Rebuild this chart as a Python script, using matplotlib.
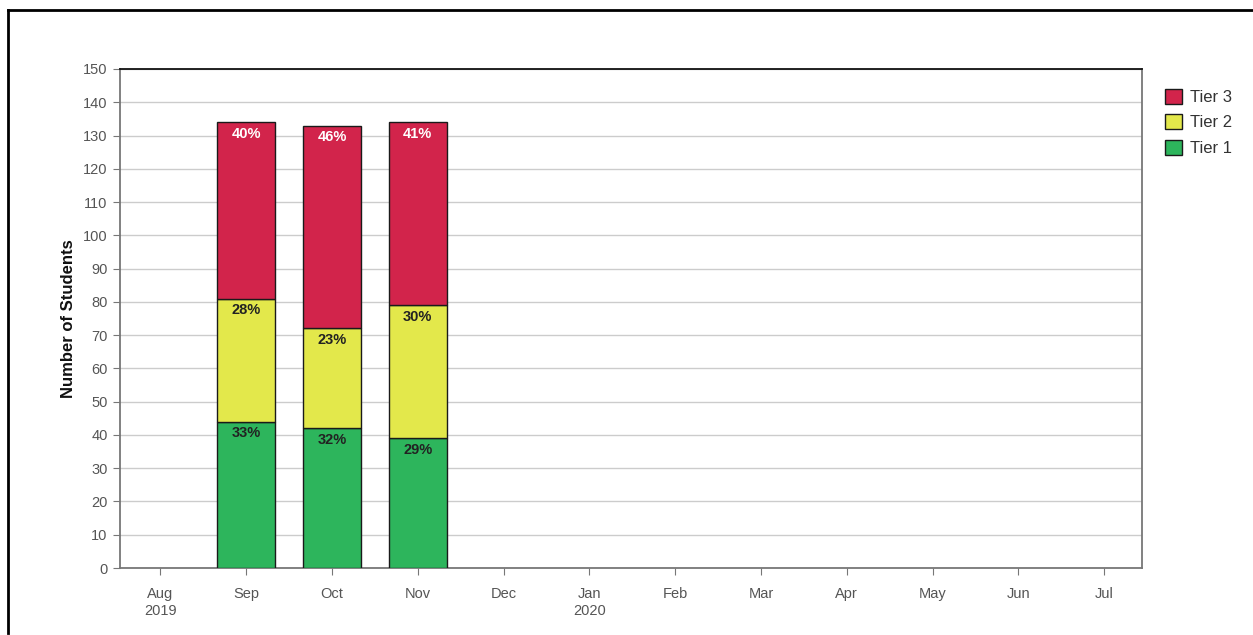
import matplotlib
matplotlib.use("Agg")
import matplotlib.pyplot as plt
from matplotlib.patches import Patch
from matplotlib.lines import Line2D
import numpy as np

plt.rcParams['font.family'] = ['Liberation Sans', 'DejaVu Sans']

months = ["Aug\n2019", "Sep", "Oct", "Nov", "Dec", "Jan\n2020", "Feb", "Mar", "Apr", "May", "Jun", "Jul"]
bar_months = [1, 2, 3]  # indices of Sep, Oct, Nov
tier1 = [44, 42, 39]
tier2 = [37, 30, 40]
tier3 = [53, 61, 55]
pct1 = ["33%", "32%", "29%"]
pct2 = ["28%", "23%", "30%"]
pct3 = ["40%", "46%", "41%"]

c_red = "#D2244B"
c_yel = "#E3E84B"
c_grn = "#2DB55C"

fig = plt.figure(figsize=(12.53, 6.35), dpi=100)
ax = fig.add_axes([120/1253, 1-568/635, (1142-120)/1253, (568-69)/635])

x = np.array(bar_months, dtype=float)
w = 0.67
b1 = np.array(tier1)
b2 = b1 + np.array(tier2)
ax.bar(x, tier1, w, color=c_grn, edgecolor="#1a1a1a", linewidth=1, zorder=3)
ax.bar(x, tier2, w, bottom=b1, color=c_yel, edgecolor="#1a1a1a", linewidth=1, zorder=3)
ax.bar(x, tier3, w, bottom=b2, color=c_red, edgecolor="#1a1a1a", linewidth=1, zorder=3)

tops1 = b1
tops2 = b2
tops3 = b2 + np.array(tier3)
for i in range(len(x)):
    ax.annotate(pct1[i], (x[i], tops1[i]), xytext=(0, -3.5), textcoords="offset points",
                ha="center", va="top", fontsize=10.5, fontweight="bold", color="#222222", zorder=4)
    ax.annotate(pct2[i], (x[i], tops2[i]), xytext=(0, -3.5), textcoords="offset points",
                ha="center", va="top", fontsize=10.5, fontweight="bold", color="#222222", zorder=4)
    ax.annotate(pct3[i], (x[i], tops3[i]), xytext=(0, -3.5), textcoords="offset points",
                ha="center", va="top", fontsize=10.5, fontweight="bold", color="white", zorder=4)

ax.set_xlim(-0.47, 11.44)
ax.set_ylim(0, 150)
ax.set_yticks(range(0, 151, 10))
ax.set_xticks(range(len(months)))
ax.set_xticklabels(months)
ax.yaxis.grid(True, color="#cccccc", linewidth=1, zorder=0)
ax.set_axisbelow(True)
ax.tick_params(axis="both", colors="#777777", labelcolor="#555555", labelsize=10.5, length=5, direction="out")
ax.tick_params(axis="x", pad=9)
ax.tick_params(axis="y", pad=4)
for s in ["left", "bottom", "right"]:
    ax.spines[s].set_color("#777777")
    ax.spines[s].set_linewidth(1.3)
ax.spines["top"].set_color("#111111")
ax.spines["top"].set_linewidth(1.3)
ax.set_ylabel("Number of Students", fontsize=12, fontweight="bold", color="#111111", labelpad=5)

handles = [Patch(facecolor=c_red, edgecolor="#1a1a1a", label="Tier 3"),
           Patch(facecolor=c_yel, edgecolor="#1a1a1a", label="Tier 2"),
           Patch(facecolor=c_grn, edgecolor="#1a1a1a", label="Tier 1")]
fig.legend(handles=handles, loc="upper left", bbox_to_anchor=(1150/1253, 1-74/635),
           frameon=False, fontsize=12, handlelength=1.0, handleheight=1.0,
           handletextpad=0.5, labelspacing=0.55, labelcolor="#333333")

# outer border
fig.add_artist(Line2D([8/1253, 8/1253], [1-10/635, 1-633/635], color="black", linewidth=2, transform=fig.transFigure))
fig.add_artist(Line2D([8/1253, 1.0], [1-10/635, 1-10/635], color="black", linewidth=2, transform=fig.transFigure))

fig.savefig("out.png", dpi=100, facecolor="white")
